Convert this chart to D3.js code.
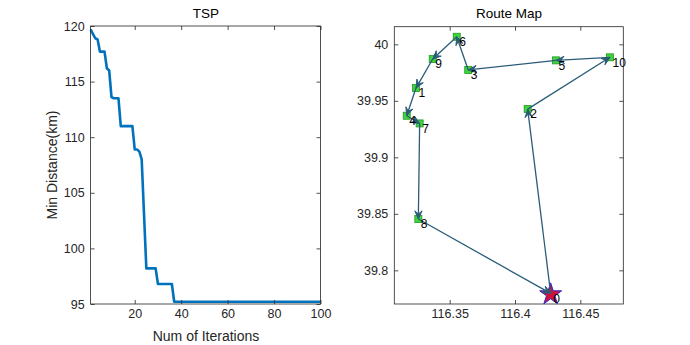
<!DOCTYPE html>
<html><head><meta charset="utf-8">
<script src="https://cdn.jsdelivr.net/npm/d3@7"></script>
<style>body{margin:0;background:#fff}text{font-family:Arial,"Liberation Sans",sans-serif}</style>
</head><body><svg id="c" width="690" height="345"></svg>
<script>
// ---- Data: convergence curve ----
const iterations = d3.range(1, 101);
const minDistance = [
 119.7,119.3,118.9,118.8,117.7,117.7,117.7,116.2,116.0,113.6,
 113.5,113.5,113.5,111.0,111.0,111.0,111.0,111.0,111.0,108.9,
 108.9,108.7,108.0,103.1,98.2,98.2,98.2,98.2,98.2,96.8,
 96.8,96.8,96.8,96.8,96.8,96.8,95.2
].concat(d3.range(63).map(()=>95.2));
const xTicksLeft = [20,40,60,80,100];
const yTicksLeft = [95,100,105,110,115,120];

// ---- Data: route map ----
const pointIds = [0,1,2,3,4,5,6,7,8,9,10];
const lons = [116.4273,116.3242,116.4097,116.3642,116.3171,116.4314,116.3554,116.3270,116.3260,116.3370,116.4727];
const lats = [39.7796,39.9613,39.9427,39.9773,39.9368,39.9858,40.0067,39.9300,39.8454,39.9870,39.9885];
const route = [0,2,10,5,3,6,9,1,4,7,8,0];
const xTicksRight = [116.35,116.4,116.45];
const yTicksRight = [39.8,39.85,39.9,39.95,40];

const svg = d3.select("#c");
const axisCol = "#262626";

function frame(g, x, y, xt, yt, xfmt, yfmt){
  const [x0,x1] = x.range(), [y0,y1] = y.range();
  const ax = (sel)=>{sel.select(".domain").remove(); sel.selectAll("line").attr("stroke",axisCol).attr("stroke-width",0.8);
    sel.selectAll("text").attr("fill",axisCol).style("font-size","12.5px").style("font-family","Arial, 'Liberation Sans', sans-serif");};
  g.append("g").attr("transform",`translate(0,${y0})`).call(d3.axisBottom(x).tickValues(xt).tickSize(-4).tickPadding(5).tickFormat(xfmt)).call(ax);
  g.append("g").attr("transform",`translate(0,${y1})`).call(d3.axisTop(x).tickValues(xt).tickSize(-4).tickFormat("")).call(ax);
  g.append("g").attr("transform",`translate(${x0},0)`).call(d3.axisLeft(y).tickValues(yt).tickSize(-4).tickPadding(6).tickFormat(yfmt)).call(ax);
  g.append("g").attr("transform",`translate(${x1},0)`).call(d3.axisRight(y).tickValues(yt).tickSize(-4).tickFormat("")).call(ax);
  g.append("rect").attr("x",x0).attr("y",y1).attr("width",x1-x0).attr("height",y0-y1)
    .attr("fill","none").attr("stroke",axisCol).attr("stroke-width",0.8);
}

// ---- Left chart ----
const xL = d3.scaleLinear([1,100],[90.6,320.5]);
const yL = d3.scaleLinear([95,120],[304,26]);
const gL = svg.append("g");
gL.append("path").datum(iterations.map((d,i)=>[d,minDistance[i]]))
  .attr("fill","none").attr("stroke","#0072BD").attr("stroke-width",2.6).attr("stroke-linejoin","round")
  .attr("d", d3.line().x(d=>xL(d[0])).y(d=>yL(d[1])));
frame(gL, xL, yL, xTicksLeft, yTicksLeft, d3.format("d"), d3.format("d"));
gL.append("text").attr("x",206).attr("y",18).attr("text-anchor","middle").style("font-size","13.5px").attr("fill","#000").text("TSP");
gL.append("text").attr("x",206).attr("y",341).attr("text-anchor","middle").style("font-size","14px").attr("fill",axisCol).text("Num of Iterations");
gL.append("text").attr("transform","translate(57,165) rotate(-90)").attr("text-anchor","middle").style("font-size","14px").attr("fill",axisCol).text("Min Distance(km)");

// ---- Right chart ----
const xR = d3.scaleLinear([116.3076,116.4829],[394.3,623.3]);
const yR = d3.scaleLinear([39.7702,40.0156],[304,26.7]);
const gR = svg.append("g");
frame(gR, xR, yR, xTicksRight, yTicksRight, d=>String(+d.toFixed(2)), d=>String(+d.toFixed(2)));
gR.append("text").attr("x",509).attr("y",18).attr("text-anchor","middle").style("font-size","13.5px").attr("fill","#000").text("Route Map");

// green squares (cities other than depot)
gR.selectAll("rect.city").data(pointIds.filter(d=>d!==0)).enter().append("rect").attr("class","city")
  .attr("x",d=>xR(lons[d])-3.5).attr("y",d=>yR(lats[d])-3.5).attr("width",7).attr("height",7)
  .attr("fill","#3fd43f").attr("stroke","#1e9a1e").attr("stroke-width",0.8);

// depot star
const star = d3.symbol().type(d3.symbolStar).size(150);
gR.append("path").attr("d",star()).attr("transform",`translate(${xR(lons[0])},${yR(lats[0])+1})`)
  .attr("fill","#d4103a").attr("stroke","#2b2bd0").attr("stroke-width",1);

// route arrows
const arrCol = "#2a5c78";
for(let k=0;k<route.length-1;k++){
  const a=route[k], b=route[k+1];
  const x1=xR(lons[a]), y1=yR(lats[a]), x2=xR(lons[b]), y2=yR(lats[b]);
  gR.append("line").attr("x1",x1).attr("y1",y1).attr("x2",x2).attr("y2",y2)
    .attr("stroke",arrCol).attr("stroke-width",1.3);
  const ang=Math.atan2(y2-y1,x2-x1), L=9, w=0.42;
  const p1=[x2-L*Math.cos(ang-w), y2-L*Math.sin(ang-w)];
  const p2=[x2-L*Math.cos(ang+w), y2-L*Math.sin(ang+w)];
  const pm=[x2-L*0.55*Math.cos(ang), y2-L*0.55*Math.sin(ang)];
  gR.append("path").attr("d",`M${p1}L${x2},${y2}L${p2}L${pm}Z`)
    .attr("fill",arrCol).attr("stroke",arrCol).attr("stroke-width",1).attr("stroke-linejoin","round");
}
// labels
gR.selectAll("text.lab").data(pointIds).enter().append("text").attr("class","lab")
  .attr("x",d=>xR(lons[d])+2.5).attr("y",d=>yR(lats[d])+5).attr("dy","0.35em")
  .style("font-size","12px").attr("fill","#000").text(d=>d);
</script></body></html>
